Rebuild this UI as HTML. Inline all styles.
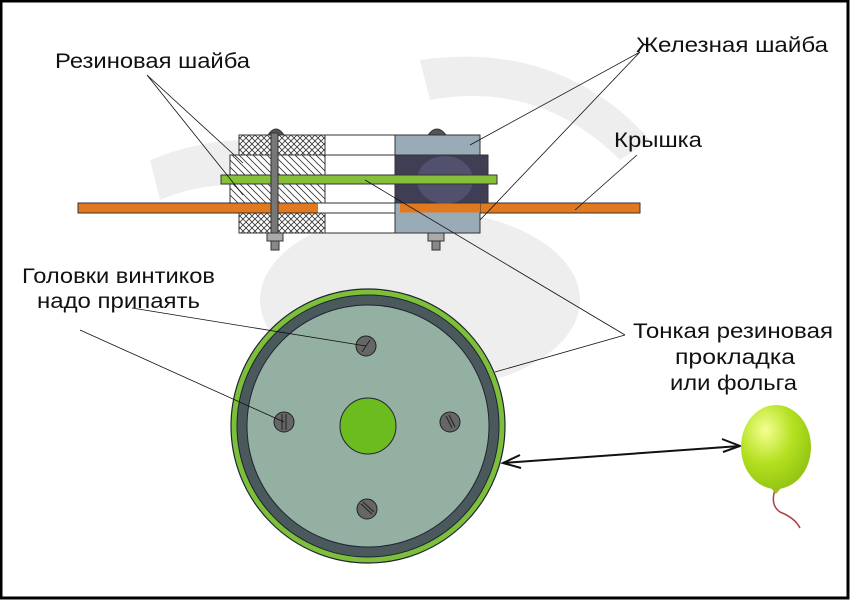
<!DOCTYPE html>
<html><head><meta charset="utf-8"><style>
html,body{margin:0;padding:0;background:#fff}
svg{display:block}
text{font-family:"Liberation Sans",Arial,sans-serif;font-size:21px;fill:#111}
</style></head><body>
<svg width="850" height="600" viewBox="0 0 850 600" xmlns="http://www.w3.org/2000/svg">
<defs>
<pattern id="cross" width="6" height="6" patternUnits="userSpaceOnUse">
<rect width="6" height="6" fill="#fff"/><path d="M0 0L6 6M6 0L0 6" stroke="#333" stroke-width="0.8"/></pattern>
<pattern id="hatch" width="7" height="7" patternUnits="userSpaceOnUse">
<rect width="7" height="7" fill="#fff"/><path d="M0 0L7 7M-1 6L1 8M6 -1L8 1" stroke="#333" stroke-width="0.8"/></pattern>
<radialGradient id="bal" cx="0.35" cy="0.3" r="0.8"><stop offset="0" stop-color="#f4ff90"/><stop offset="0.5" stop-color="#b4e020"/><stop offset="1" stop-color="#8cc010"/></radialGradient>
</defs>
<rect x="0" y="0" width="850" height="600" fill="#fff"/>
<g fill="#eeeeee">
<ellipse cx="420" cy="300" rx="160" ry="90"/>
<path d="M150 160 Q250 120 330 160 L310 200 Q230 170 160 200Z"/>
<path d="M420 60 Q560 40 650 140 L620 160 Q540 80 430 100Z"/>
</g>
<rect x="78" y="203" width="562" height="10" fill="#e07a20" stroke="#333" stroke-width="1"/>
<rect x="318" y="203.5" width="82" height="9" fill="#fff"/>
<rect x="239" y="135" width="86" height="20" fill="url(#cross)" stroke="#333"/>
<rect x="230" y="155" width="95" height="48" fill="url(#hatch)" stroke="#333"/>
<rect x="239" y="213" width="86" height="20" fill="url(#cross)" stroke="#333"/>
<rect x="325" y="135" width="70" height="20" fill="#fff" stroke="#333"/>
<rect x="325" y="155" width="70" height="48" fill="#fff" stroke="#333"/>
<rect x="325" y="213" width="70" height="20" fill="#fff" stroke="#333"/>
<rect x="395" y="135" width="85" height="98" fill="#9aabb8" stroke="#333"/>
<rect x="395" y="155" width="93" height="48" fill="#3f3e55" stroke="#333"/>
<ellipse cx="445" cy="180" rx="28" ry="24" fill="#5a5878" opacity="0.7"/>
<rect x="400" y="203.5" width="80" height="9" fill="#e07a20"/>
<rect x="221" y="175" width="276" height="9" fill="#86c03a" stroke="#333"/>
<path d="M268 135 Q276 123 284 135Z" fill="#555" stroke="#333"/>
<rect x="271" y="133" width="7" height="117" fill="#777" stroke="#333"/>
<rect x="267" y="233" width="16" height="8" fill="#aaa" stroke="#333"/>
<rect x="271" y="241" width="8" height="9" fill="#888" stroke="#333"/>
<path d="M428 135 Q437 123 446 135Z" fill="#555" stroke="#333"/>
<rect x="428" y="233" width="16" height="8" fill="#aaa" stroke="#333"/>
<rect x="432" y="241" width="8" height="9" fill="#888" stroke="#333"/>
<circle cx="368" cy="426" r="137" fill="#7cc03a" stroke="#223" stroke-width="1.2"/>
<circle cx="368" cy="426" r="131" fill="#4a5a5c" stroke="#223" stroke-width="1"/>
<circle cx="368" cy="426" r="121" fill="#94b0a2" stroke="#223" stroke-width="1"/>
<circle cx="368" cy="426" r="28" fill="#6cbc20" stroke="#223"/>
<g fill="#666" stroke="#222">
<circle cx="366" cy="346" r="10"/><circle cx="284" cy="422" r="10"/>
<circle cx="450" cy="422" r="10"/><circle cx="367" cy="509" r="10"/>
</g>
<g stroke="#222" stroke-width="1">
<path d="M362 352L370 340M282 414L282 430M286 414L286 430M446 416L452 428M449 415L455 427M361 504L372 514M363 502L374 512"/>
</g>
<g stroke="#111" stroke-width="0.8" fill="none">
<path d="M147 75L243 163M147 75L243 195"/>
<path d="M640 52L470 145M640 52L480 220"/>
<path d="M637 155L575 210"/>
<path d="M625 335L365 180M625 335L495 372"/>
<path d="M132 308L366 346M80 330L284 422"/>
</g>
<g stroke="#111" stroke-width="2" fill="none">
<path d="M503 463L740 446"/>
<path d="M520 455L503 463L521 468"/>
<path d="M722 439L740 446L723 452"/>
</g>
<path d="M775 490 Q770 505 780 512 Q795 518 800 528" stroke="#b04040" stroke-width="1.5" fill="none"/>
<ellipse cx="776" cy="447" rx="35" ry="42" fill="url(#bal)"/>
<path d="M771 488L781 488L776 494Z" fill="#9cc020"/>
<text x="55" y="68" textLength="195" lengthAdjust="spacingAndGlyphs">Резиновая шайба</text>
<text x="636" y="52" textLength="192" lengthAdjust="spacingAndGlyphs">Железная шайба</text>
<text x="614" y="147" textLength="88" lengthAdjust="spacingAndGlyphs">Крышка</text>
<text x="22" y="283" textLength="193" lengthAdjust="spacingAndGlyphs">Головки винтиков</text>
<text x="37" y="308" textLength="163" lengthAdjust="spacingAndGlyphs">надо припаять</text>
<text x="633" y="338" textLength="200" lengthAdjust="spacingAndGlyphs">Тонкая резиновая</text>
<text x="675" y="364" textLength="120" lengthAdjust="spacingAndGlyphs">прокладка</text>
<text x="670" y="390" textLength="127" lengthAdjust="spacingAndGlyphs">или фольга</text>
<rect x="1" y="1" width="847" height="597" fill="none" stroke="#000" stroke-width="3"/>
</svg>
</body></html>
